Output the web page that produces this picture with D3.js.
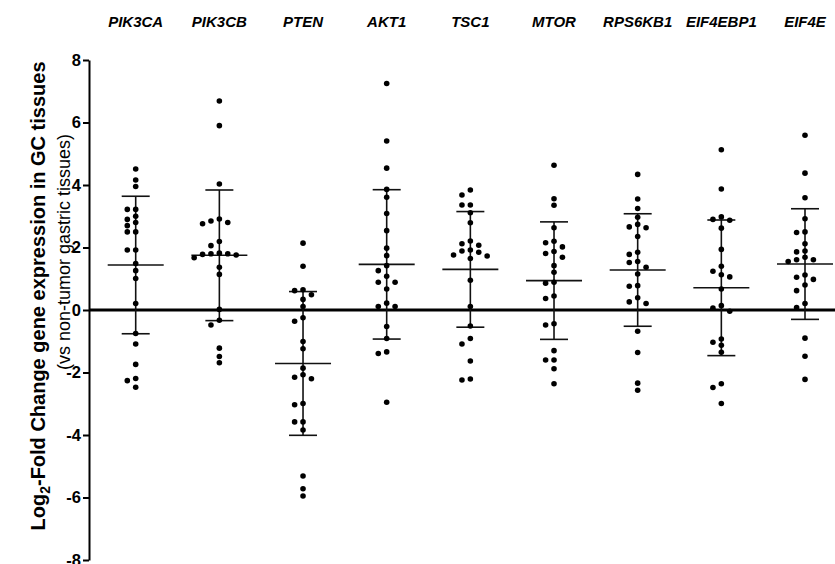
<!DOCTYPE html>
<html>
<head>
<meta charset="utf-8">
<script src="https://cdn.jsdelivr.net/npm/d3@7"></script>
<style>
  body { margin: 0; background: #fff; }
  svg { display: block; font-family: "Liberation Sans", Arial, sans-serif; }
</style>
</head>
<body>
<div id="chart"></div>
<script>
const genes = ["PIK3CA", "PIK3CB", "PTEN", "AKT1", "TSC1", "MTOR", "RPS6KB1", "EIF4EBP1", "EIF4E"];

const pik3ca = [4.51, 4.16, 3.95, 3.22, 3.22, 3.0, 2.9, 2.8, 2.7, 2.5, 2.5, 1.92, 1.92, 1.49, 1.26, 1.01, 0.21, -0.75, -1.09, -1.74, -2.19, -2.26, -2.47];
const pik3cb = [6.69, 5.90, 4.03, 2.91, 2.76, 2.80, 2.85, 2.19, 2.06, 1.80, 1.76, 1.82, 1.78, 1.80, 1.67, 1.37, 1.14, 0.02, -0.33, -0.48, -1.22, -1.49, -1.69];
const pten = [2.14, 1.40, 0.62, 0.65, 0.49, 0.34, 0.11, -0.25, -0.36, -1.01, -1.24, -1.86, -2.07, -2.20, -2.15, -2.99, -3.03, -3.58, -3.58, -3.84, -5.31, -5.72, -5.95];
const akt1 = [7.25, 5.41, 4.54, 3.86, 3.61, 3.09, 2.54, 1.98, 1.74, 1.42, 1.26, 1.08, 0.89, 0.89, 0.67, 0.22, 0.11, 0.11, -0.53, -0.91, -1.34, -1.39, -2.95];
const tsc1 = [3.84, 3.68, 3.36, 3.36, 3.11, 2.79, 2.12, 2.07, 2.21, 1.89, 1.76, 1.92, 1.73, 1.85, 1.65, 0.95, 0.11, -0.51, -0.91, -1.09, -1.63, -2.24, -2.21];
const mtor = [4.63, 3.56, 3.35, 2.63, 2.20, 2.15, 2.02, 1.81, 1.87, 1.69, 1.42, 1.21, 0.89, 0.86, 0.45, 0.37, -0.44, -0.48, -1.30, -1.60, -1.60, -1.88, -2.36];
const rps6kb1 = [4.34, 3.55, 3.25, 2.97, 2.66, 2.63, 2.74, 2.35, 1.78, 1.85, 1.52, 1.55, 1.37, 1.15, 0.76, 0.78, 0.39, 0.26, 0.21, -0.68, -1.36, -2.34, -2.57];
const eif4ebp1 = [5.13, 3.87, 2.87, 2.98, 2.90, 2.62, 1.94, 1.40, 1.24, 1.13, 1.06, 0.67, 0.14, 0.06, -0.04, -0.93, -1.03, -1.13, -1.35, -2.36, -2.48, -2.99];
const eif4e = [5.59, 4.38, 3.59, 2.92, 2.48, 2.50, 2.12, 1.89, 1.86, 1.61, 1.61, 1.69, 1.55, 1.05, 0.98, 1.12, 0.80, 0.62, 0.21, 0.08, -0.90, -1.48, -2.22];

const seriesValues = [pik3ca, pik3cb, pten, akt1, tsc1, mtor, rps6kb1, eif4ebp1, eif4e];

// mean and SD
const means = [1.44, 1.75, -1.71, 1.46, 1.30, 0.94, 1.28, 0.71, 1.47];
const sds = [2.20, 2.09, 2.30, 2.39, 1.85, 1.88, 1.80, 2.17, 1.77];

const yTicks = [-8, -6, -4, -2, 0, 2, 4, 6, 8];

const width = 835, height = 564;

const svg = d3.select("#chart")
    .append("svg")
    .attr("width", width)
    .attr("height", height);

const x = d3.scalePoint()
    .domain(genes)
    .range([135.7, 805]);

const y = d3.scaleLinear()
    .domain([-8, 8])
    .range([560, 60]);

// y axis
const yAxis = svg.append("g")
    .attr("transform", "translate(89,0)")
    .call(d3.axisLeft(y)
        .tickValues(yTicks)
        .tickFormat(d => String(d))
        .tickSize(6)
        .tickSizeOuter(0)
        .tickPadding(2));

yAxis.attr("font-family", null).attr("font-size", null);
yAxis.select(".domain").attr("stroke", "#000").attr("stroke-width", 2);
yAxis.selectAll(".tick line").attr("stroke", "#000").attr("stroke-width", 2);
yAxis.selectAll(".tick text")
    .style("font-size", "16.5px")
    .style("font-weight", "bold")
    .attr("fill", "#000");

// zero line
svg.append("line")
    .attr("x1", 89)
    .attr("x2", width)
    .attr("y1", y(0))
    .attr("y2", y(0))
    .attr("stroke", "#000")
    .attr("stroke-width", 3);

// gene labels
svg.selectAll(".gene")
    .data(genes)
    .enter()
    .append("text")
    .attr("class", "gene")
    .attr("x", d => x(d))
    .attr("y", 27)
    .attr("text-anchor", "middle")
    .attr("font-size", 15)
    .attr("font-weight", "bold")
    .attr("font-style", "italic")
    .text(d => d);

// y titles
const title = svg.append("text")
    .attr("transform", "translate(45,296) rotate(-90)")
    .attr("text-anchor", "middle")
    .attr("font-size", 20)
    .attr("font-weight", "bold");
title.append("tspan").text("Log");
title.append("tspan").attr("font-size", 14).attr("dy", 5).text("2");
title.append("tspan").attr("dy", -5).text("-Fold Change gene expression in GC tissues");

svg.append("text")
    .attr("transform", "translate(70,252) rotate(-90)")
    .attr("text-anchor", "middle")
    .attr("font-size", 18)
    .text("(vs non-tumor gastric tissues)");

// simple beeswarm: slots to the side when dots would overlap
const step = 8.4, minGap = 6.2;
function swarm(values) {
    const placed = [];
    const sorted = values.slice().sort((a, b) => b - a);
    sorted.forEach(v => {
        const py = y(v);
        const order = [0, -1, 1, -2, 2, -3, 3];
        for (const k of order) {
            const clash = placed.some(p => p.k === k && Math.abs(p.py - py) < minGap);
            if (!clash) { placed.push({ v: v, py: py, k: k }); break; }
        }
    });
    return placed;
}

const groups = svg.selectAll(".group")
    .data(genes)
    .enter()
    .append("g")
    .attr("class", "group");

groups.each(function (gene, i) {
    const g = d3.select(this);
    const cx = x(gene);
    const m = means[i], s = sds[i];

    g.append("line")
        .attr("x1", cx).attr("x2", cx)
        .attr("y1", y(m + s)).attr("y2", y(m - s))
        .attr("stroke", "#111").attr("stroke-width", 1.6);
    [m + s, m - s].forEach(v => {
        g.append("line")
            .attr("x1", cx - 14).attr("x2", cx + 14)
            .attr("y1", y(v)).attr("y2", y(v))
            .attr("stroke", "#111").attr("stroke-width", 1.6);
    });
    g.append("line")
        .attr("x1", cx - 28).attr("x2", cx + 28)
        .attr("y1", y(m)).attr("y2", y(m))
        .attr("stroke", "#111").attr("stroke-width", 1.6);

    g.selectAll("circle")
        .data(swarm(seriesValues[i]))
        .enter()
        .append("circle")
        .attr("cx", d => cx + d.k * step)
        .attr("cy", d => d.py)
        .attr("r", 2.8)
        .attr("fill", "#000");
});
</script>
</body>
</html>
